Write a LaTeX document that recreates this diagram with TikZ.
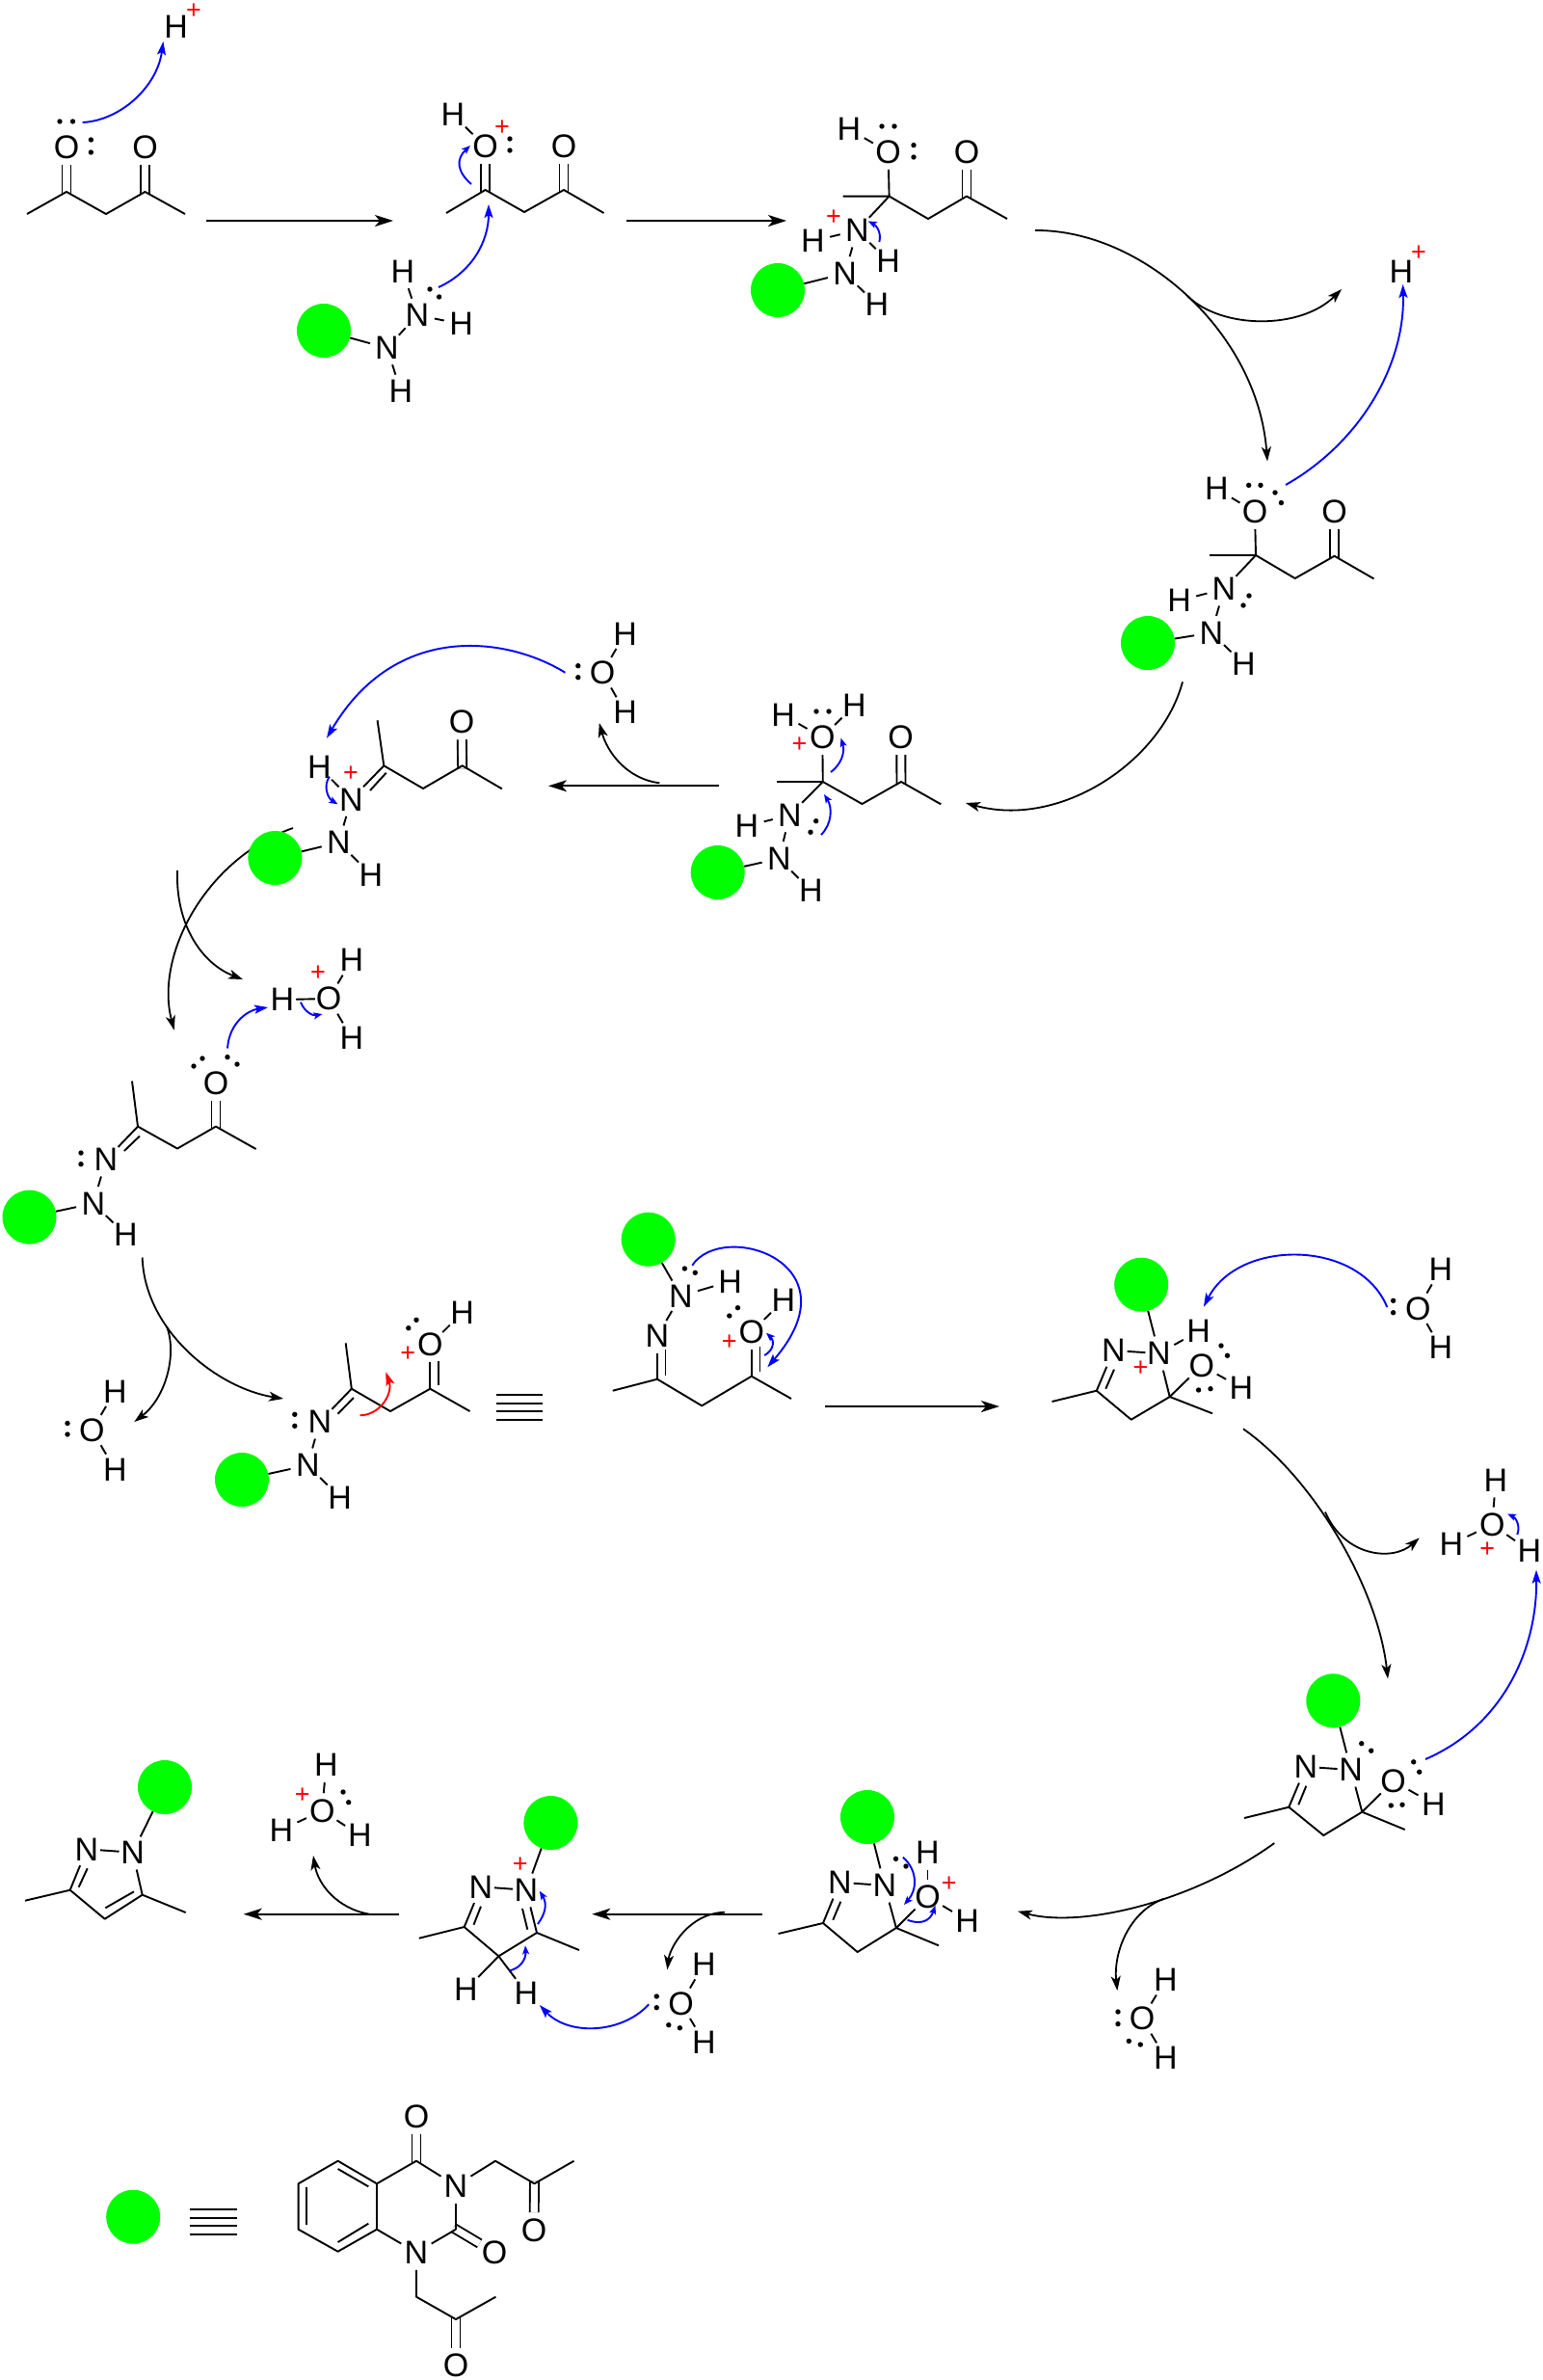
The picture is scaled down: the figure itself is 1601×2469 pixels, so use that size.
\documentclass[tikz,border=0pt]{standalone}
\usepackage{fontspec}
\setmainfont{Liberation Sans}
\usetikzlibrary{arrows.meta}
\definecolor{groupgreen}{RGB}{0,255,0}
\definecolor{pushblue}{RGB}{0,0,255}
\definecolor{pushred}{RGB}{255,0,0}
\tikzset{
    atom/.style={circle,inner sep=0pt,minimum size=36pt,font=\fontsize{34}{38}\selectfont},
    charge/.style={inner sep=0pt,text=pushred,font=\fontsize{27}{30}\selectfont},
    group/.style={circle,fill=groupgreen,inner sep=0pt,minimum size=56pt},
    bond/.style={line width=1.9pt,line join=round},
    bondh/.style={bond,shorten <=-4pt,shorten >=-4pt},
    dbl/.style={line width=1.9pt,double,double distance=7.1pt,shorten <=-3pt},
    lp/.style={fill=black},
    rxn/.style={line width=2pt,-{Stealth[length=19pt,width=12pt,inset=5pt]}},
    rxnc/.style={line width=1.8pt,-{Stealth[length=15pt,width=10pt,inset=4pt]}},
    push/.style={line width=1.9pt,pushblue,-{Stealth[length=14pt,width=9pt,inset=3pt]}},
    pushs/.style={line width=1.9pt,pushblue,-{Stealth[length=9pt,width=7pt,inset=2pt]}},
    pushr/.style={line width=1.9pt,pushred,-{Stealth[length=14pt,width=9pt,inset=3pt]}},
}
\begin{document}
\begin{tikzpicture}[x=1pt,y=-1pt]
    \useasboundingbox (0,0) rectangle (1601,2469);

    \coordinate (mea1) at (28,222);
    \coordinate (ca1) at (69,199);
    \coordinate (ca2) at (110,222);
    \coordinate (ca3) at (150.5,199);
    \coordinate (mea2) at (192,222);
    \node[atom] (oa1) at (69,153) {O};
    \node[atom] (oa2) at (150.5,153) {O};
    \draw[dbl] (ca1) -- (oa1);
    \draw[dbl] (ca3) -- (oa2);
    \draw[bond] (mea1) -- (ca1) -- (ca2) -- (ca3) -- (mea2);
    \fill[lp] (62,126) circle (2.7pt) (75.5,126) circle (2.7pt) (94.4,145) circle (2.7pt) (94.4,158) circle (2.7pt);
    \node[atom] (ha1) at (182.6,28) {H};
    \node[charge] (pa1) at (201,12) {+};
    \coordinate (pua1) at (85.7,127);
    \coordinate (pua2) at (169.4,43);
    \draw[push] (pua1) .. controls (125,125) and (163,90) .. (pua2);
    \coordinate (ra1) at (214,229);
    \coordinate (ra2) at (408,229);
    \draw[rxn] (ra1) -- (ra2);

    \coordinate (meb1) at (463,221);
    \coordinate (cb1) at (503.6,197);
    \coordinate (cb2) at (544,220);
    \coordinate (cb3) at (585,197);
    \coordinate (meb2) at (626.5,221);
    \node[atom] (ob1) at (503.6,152) {O};
    \node[atom] (ob2) at (585,152) {O};
    \node[atom] (hb1) at (470,119) {H};
    \node[charge] (pb1) at (521,133) {+};
    \draw[dbl] (cb1) -- (ob1);
    \draw[dbl] (cb3) -- (ob2);
    \draw[bond] (meb1) -- (cb1) -- (cb2) -- (cb3) -- (meb2);
    \draw[bond] (hb1) -- (ob1);
    \fill[lp] (529,144) circle (2.7pt) (529,156) circle (2.7pt);
    \node[group] (gb) at (336,343) {};
    \node[atom] (nb1) at (401.5,361) {N};
    \node[atom] (nb2) at (433,327) {N};
    \node[atom] (hb2) at (418,282) {H};
    \node[atom] (hb3) at (478.6,336) {H};
    \node[atom] (hb4) at (416,406) {H};
    \draw[bond] (gb) -- (nb1);
    \draw[bond] (nb1) -- (nb2);
    \draw[bond] (nb2) -- (hb2);
    \draw[bond] (nb2) -- (hb3);
    \draw[bond] (nb1) -- (hb4);
    \fill[lp] (446,300) circle (2.7pt) (455.6,308) circle (2.7pt);
    \coordinate (pub1) at (489,191);
    \coordinate (pub2) at (488,151);
    \draw[pushs] (pub1) .. controls (474,178) and (473,165) .. (pub2);
    \coordinate (pub3) at (455,298);
    \coordinate (pub4) at (507,212);
    \draw[push] (pub3) .. controls (490,282) and (507,250) .. (pub4);
    \coordinate (rb1) at (649.5,229);
    \coordinate (rb2) at (816,229);
    \draw[rxn] (rb1) -- (rb2);

    \coordinate (mec1) at (874.6,203.6);
    \coordinate (cc1) at (922.6,203.6);
    \coordinate (cc2) at (963,227);
    \coordinate (cc3) at (1003,203.6);
    \coordinate (mec2) at (1045,227);
    \node[atom] (oc1) at (921.6,157.6) {O};
    \node[atom] (oc2) at (1003,157.6) {O};
    \node[atom] (hc1) at (881,134) {H};
    \node[atom] (nc1) at (889.4,239) {N};
    \node[atom] (hc2) at (843.4,250) {H};
    \node[atom] (hc3) at (921.6,271) {H};
    \node[atom] (nc2) at (876.6,283.7) {N};
    \node[atom] (hc4) at (910,316) {H};
    \node[group] (gc) at (807,301) {};
    \node[charge] (pc1) at (865,225.6) {+};
    \draw[dbl] (cc3) -- (oc2);
    \draw[bond] (mec1) -- (cc1) -- (cc2) -- (cc3) -- (mec2);
    \draw[bond] (cc1) -- (oc1);
    \draw[bond] (hc1) -- (oc1);
    \draw[bond] (cc1) -- (nc1);
    \draw[bond] (hc2) -- (nc1);
    \draw[bond] (hc3) -- (nc1);
    \draw[bond] (nc1) -- (nc2);
    \draw[bond] (nc2) -- (hc4);
    \draw[bond] (gc) -- (nc2);
    \fill[lp] (915,131) circle (2.7pt) (928,131) circle (2.7pt) (948,150.6) circle (2.7pt) (948,163) circle (2.7pt);
    \coordinate (puc1) at (912.4,251);
    \coordinate (puc2) at (900.7,229.4);
    \draw[pushs] (puc1) .. controls (915,240) and (908,233) .. (puc2);
    \coordinate (rc1) at (1074,239);
    \coordinate (rc2) at (1315,478.5);
    \draw[rxnc] (rc1) .. controls (1185,238) and (1305,345) .. (rc2);
    \coordinate (rc3) at (1232,307);
    \coordinate (rc4) at (1392,300);
    \draw[rxnc] (rc3) .. controls (1268,342) and (1350,342) .. (rc4);
    \node[atom] (hc5) at (1454,281.6) {H};
    \node[charge] (pc2) at (1472,262.5) {+};

    \coordinate (med1) at (1255,576);
    \coordinate (cd1) at (1303,576);
    \coordinate (cd2) at (1343.7,600);
    \coordinate (cd3) at (1384.6,576.8);
    \coordinate (med2) at (1425.5,600.4);
    \node[atom] (od1) at (1302,531) {O};
    \node[atom] (od2) at (1384.6,531) {O};
    \node[atom] (hd1) at (1262.4,507) {H};
    \node[atom] (nd1) at (1270,611) {N};
    \node[atom] (hd2) at (1223.6,623) {H};
    \node[atom] (nd2) at (1257,656.4) {N};
    \node[atom] (hd3) at (1290.5,689) {H};
    \node[group] (gd) at (1191,667) {};
    \draw[dbl] (cd3) -- (od2);
    \draw[bond] (med1) -- (cd1) -- (cd2) -- (cd3) -- (med2);
    \draw[bond] (cd1) -- (od1);
    \draw[bond] (hd1) -- (od1);
    \draw[bond] (cd1) -- (nd1);
    \draw[bond] (hd2) -- (nd1);
    \draw[bond] (nd1) -- (nd2);
    \draw[bond] (nd2) -- (hd3);
    \draw[bond] (gd) -- (nd2);
    \fill[lp] (1295.7,503.4) circle (2.7pt) (1308,503.4) circle (2.7pt) (1323,511) circle (2.7pt) (1329.4,521.6) circle (2.7pt) (1296,618) circle (2.7pt) (1290,628) circle (2.7pt);
    \coordinate (pud1) at (1334,503);
    \coordinate (pud2) at (1455.6,295);
    \draw[push] (pud1) .. controls (1410,460) and (1458,380) .. (pud2);
    \coordinate (rd1) at (1227,707.4);
    \coordinate (rd2) at (1002,833);
    \draw[rxnc] (rd1) .. controls (1205,790) and (1100,860) .. (rd2);

    \coordinate (mee1) at (806,811);
    \coordinate (ce1) at (853.8,811);
    \coordinate (ce2) at (894.5,834);
    \coordinate (ce3) at (935,811);
    \coordinate (mee2) at (976.3,834.3);
    \node[atom] (oe1) at (853.3,765) {O};
    \node[atom] (oe2) at (934.7,765) {O};
    \node[atom] (he1) at (812.7,741.7) {H};
    \node[atom] (he2) at (886.4,731.7) {H};
    \node[atom] (ne1) at (819.4,845.7) {N};
    \node[atom] (he3) at (775,856.7) {H};
    \node[atom] (ne2) at (808.4,890.7) {N};
    \node[atom] (he4) at (841.4,924) {H};
    \node[group] (ge) at (744.7,905) {};
    \node[charge] (pe1) at (829.4,772.3) {+};
    \draw[dbl] (ce3) -- (oe2);
    \draw[bond] (mee1) -- (ce1) -- (ce2) -- (ce3) -- (mee2);
    \draw[bond] (ce1) -- (oe1);
    \draw[bond] (he1) -- (oe1);
    \draw[bond] (he2) -- (oe1);
    \draw[bond] (ce1) -- (ne1);
    \draw[bond] (he3) -- (ne1);
    \draw[bond] (ne1) -- (ne2);
    \draw[bond] (ne2) -- (he4);
    \draw[bond] (ge) -- (ne2);
    \fill[lp] (847,738) circle (2.7pt) (860,738) circle (2.7pt) (846.7,851.7) circle (2.7pt) (841,863.3) circle (2.7pt);
    \coordinate (pue1) at (862,801);
    \coordinate (pue2) at (872.5,765.7);
    \draw[pushs] (pue1) .. controls (873,793) and (877,780) .. (pue2);
    \coordinate (pue3) at (852,866);
    \coordinate (pue4) at (855,824);
    \draw[pushs] (pue3) .. controls (863,855) and (864,838) .. (pue4);
    \coordinate (re1) at (746,815.3);
    \coordinate (re2) at (569,815.3);
    \draw[rxn] (re1) -- (re2);
    \coordinate (re3) at (684.4,812.3);
    \coordinate (re4) at (621.8,750);
    \draw[rxnc] (re3) .. controls (650,808) and (630,780) .. (re4);

    \node[atom] (owa) at (625,697.7) {O};
    \node[atom] (hwa1) at (648.6,657.3) {H};
    \node[atom] (hwa2) at (648.6,739) {H};
    \draw[bond] (owa) -- (hwa1);
    \draw[bond] (owa) -- (hwa2);
    \fill[lp] (599.8,690.7) circle (2.7pt) (599.8,702.7) circle (2.7pt);
    \coordinate (puw1) at (586.4,697.7);
    \coordinate (puw2) at (339,765.7);
    \draw[push] (puw1) .. controls (525,660) and (410,645) .. (puw2);

    \coordinate (rf1) at (304,859);
    \coordinate (rf2) at (180.7,1068.6);
    \draw[rxnc] (rf1) .. controls (215,890) and (160,990) .. (rf2);
    \coordinate (rf3) at (184,903);
    \coordinate (rf4) at (252,1016);
    \draw[rxnc] (rf3) .. controls (182,960) and (210,1000) .. (rf4);

    \coordinate (mef1) at (391.6,747.3);
    \coordinate (cf1) at (398.3,794.3);
    \coordinate (cf2) at (439,818);
    \coordinate (cf3) at (479.7,794.3);
    \coordinate (mef2) at (520.8,818.3);
    \node[atom] (of1) at (479,749) {O};
    \node[atom] (hf1) at (331.3,795.7) {H};
    \node[atom] (nf1) at (364.4,829.3) {N};
    \node[atom] (nf2) at (351.4,874) {N};
    \node[atom] (hf2) at (385,907.3) {H};
    \node[group] (gf) at (285.4,890) {};
    \node[charge] (pf1) at (364,802.3) {+};
    \draw[dbl] (cf3) -- (of1);
    \draw[bond] (mef1) -- (cf1) -- (cf2) -- (cf3) -- (mef2);
    \draw[bond] (cf1) -- (nf1);
    \draw[bond] (400.7,801.7) -- (384,820);
    \draw[bond] (hf1) -- (nf1);
    \draw[bond] (nf1) -- (nf2);
    \draw[bond] (nf2) -- (hf2);
    \draw[bond] (gf) -- (nf2);
    \coordinate (puf1) at (341.9,805.7);
    \coordinate (puf2) at (350.5,834.3);
    \draw[pushs] (puf1) .. controls (335,815) and (340,828) .. (puf2);

    \node[atom] (og) at (341,1036) {O};
    \node[atom] (hg1) at (293,1037) {H};
    \node[atom] (hg2) at (365,996) {H};
    \node[atom] (hg3) at (365,1077) {H};
    \node[charge] (pg1) at (330,1010) {+};
    \draw[bondh] (hg1) -- (og);
    \draw[bond] (og) -- (hg2);
    \draw[bond] (og) -- (hg3);
    \coordinate (pug1) at (312,1039.7);
    \coordinate (pug2) at (334.4,1052);
    \draw[pushs] (pug1) .. controls (316,1050) and (325,1054) .. (pug2);

    \coordinate (meh1) at (137,1121.5);
    \coordinate (ch1) at (143,1168.6);
    \coordinate (ch2) at (184,1191.5);
    \coordinate (ch3) at (224,1168.6);
    \coordinate (meh2) at (265.6,1192);
    \node[atom] (oh1) at (224,1124) {O};
    \node[atom] (nh1) at (110,1203) {N};
    \node[atom] (nh2) at (96.8,1248.4) {N};
    \node[atom] (hh1) at (130.5,1281) {H};
    \node[group] (gh) at (30.5,1262.6) {};
    \draw[dbl] (ch3) -- (oh1);
    \draw[bond] (meh1) -- (ch1) -- (ch2) -- (ch3) -- (meh2);
    \draw[bond] (ch1) -- (nh1);
    \draw[bond] (145,1178.5) -- (128.8,1194);
    \draw[bond] (nh1) -- (nh2);
    \draw[bond] (nh2) -- (hh1);
    \draw[bond] (gh) -- (nh2);
    \fill[lp] (201,1106) circle (2.7pt) (210,1098) circle (2.7pt) (236,1096.6) circle (2.7pt) (246,1104) circle (2.7pt) (84,1196) circle (2.7pt) (84,1207.7) circle (2.7pt);
    \coordinate (puh1) at (236,1087.5);
    \coordinate (puh2) at (278,1045);
    \draw[push] (puh1) .. controls (238,1060) and (258,1048) .. (puh2);
    \coordinate (rh1) at (147.7,1304.5);
    \coordinate (rh2) at (294,1451);
    \draw[rxnc] (rh1) .. controls (150,1380) and (225,1440) .. (rh2);
    \coordinate (rh3) at (173,1376);
    \coordinate (rh4) at (139.3,1475);
    \draw[rxnc] (rh3) .. controls (184,1405) and (172,1450) .. (rh4);

    \node[atom] (owb) at (95.4,1483.6) {O};
    \node[atom] (hwb1) at (119.3,1443.3) {H};
    \node[atom] (hwb2) at (119.3,1524.3) {H};
    \draw[bond] (owb) -- (hwb1);
    \draw[bond] (owb) -- (hwb2);
    \fill[lp] (70,1476.5) circle (2.7pt) (70,1488) circle (2.7pt);

    \coordinate (mej1) at (358.7,1393.3);
    \coordinate (cj1) at (364.8,1440.7);
    \coordinate (cj2) at (405,1464);
    \coordinate (cj3) at (446.3,1440.7);
    \coordinate (mej2) at (487.5,1464);
    \node[atom] (oj1) at (446.3,1395) {O};
    \node[atom] (hj1) at (479.7,1361.7) {H};
    \node[atom] (nj1) at (331.8,1475) {N};
    \node[atom] (nj2) at (319.3,1520) {N};
    \node[atom] (hj2) at (352.6,1553.3) {H};
    \node[group] (gj) at (251,1535) {};
    \node[charge] (pj1) at (423.3,1405) {+};
    \draw[bond] (mej1) -- (cj1) -- (cj2) -- (cj3) -- (mej2);
    \draw[bond] (cj3) -- (oj1);
    \draw[bond] (455.4,1411.7) -- (455.4,1436.7);
    \draw[bond] (oj1) -- (hj1);
    \draw[bond] (cj1) -- (nj1);
    \draw[bond] (367,1450) -- (350.5,1466.7);
    \draw[bond] (nj1) -- (nj2);
    \draw[bond] (nj2) -- (hj2);
    \draw[bond] (gj) -- (nj2);
    \fill[lp] (432,1369.3) circle (2.7pt) (423.8,1377.7) circle (2.7pt) (305.8,1467.3) circle (2.7pt) (305.8,1479.3) circle (2.7pt);
    \coordinate (puj1) at (373.5,1468.3);
    \coordinate (puj2) at (400.3,1423.3);
    \draw[pushr] (puj1) .. controls (395,1468) and (408,1445) .. (puj2);
    \foreach \yline in {1447,1455.7,1464,1472.7}
        \draw[bond] (514.8,\yline) -- (563.4,\yline);

    \coordinate (mek1) at (635.8,1442.7);
    \coordinate (ck1) at (682,1430.7);
    \coordinate (ck2) at (728.2,1458.3);
    \coordinate (ck3) at (779.8,1427.7);
    \coordinate (mek2) at (821,1451);
    \node[atom] (ok1) at (779.8,1381.7) {O};
    \node[atom] (hk1) at (812.8,1349) {H};
    \node[atom] (nk1) at (682,1385.7) {N};
    \node[atom] (nk2) at (706.5,1344.3) {N};
    \node[atom] (hk2) at (757.7,1329.3) {H};
    \node[group] (gk) at (672.7,1285.7) {};
    \node[charge] (pk1) at (756.8,1392.3) {+};
    \draw[bond] (mek1) -- (ck1) -- (ck2) -- (ck3) -- (mek2);
    \draw[bond] (ck3) -- (ok1);
    \draw[bond] (788.5,1397.3) -- (788.5,1423.3);
    \draw[bond] (ok1) -- (hk1);
    \draw[bond] (ck1) -- (nk1);
    \draw[bond] (690.5,1400) -- (690.5,1426.7);
    \draw[bond] (nk1) -- (nk2);
    \draw[bond] (nk2) -- (hk2);
    \draw[bond] (gk) -- (nk2);
    \fill[lp] (710.4,1316) circle (2.7pt) (721.3,1320.3) circle (2.7pt) (765.5,1356.7) circle (2.7pt) (756.8,1365) circle (2.7pt);
    \coordinate (puk1) at (793.2,1406);
    \coordinate (puk2) at (795,1382.7);
    \draw[pushs] (puk1) .. controls (804,1400) and (803,1390) .. (puk2);
    \coordinate (puk3) at (718.2,1312.7);
    \coordinate (puk4) at (796.3,1418.3);
    \draw[push] (puk3) .. controls (750,1265) and (890,1310) .. (puk4);
    \coordinate (rk1) at (856,1459);
    \coordinate (rk2) at (1037,1459);
    \draw[rxn] (rk1) -- (rk2);

    \coordinate (mel1) at (1091.5,1454);
    \coordinate (cl1) at (1137.8,1442.7);
    \coordinate (cl2) at (1173.7,1472.7);
    \coordinate (cl3) at (1213.7,1449);
    \coordinate (mel2) at (1258,1466.3);
    \node[atom] (nl1) at (1155.4,1401) {N};
    \node[atom] (nl2) at (1202.5,1404) {N};
    \node[atom] (hl1) at (1243.6,1381) {H};
    \node[atom] (ol1) at (1246.8,1416.7) {O};
    \node[atom] (hl2) at (1288,1439.7) {H};
    \node[group] (gl) at (1184.2,1332.7) {};
    \node[charge] (pl1) at (1183.5,1420) {+};
    \draw[bond] (mel1) -- (cl1) -- (cl2) -- (cl3) -- (mel2);
    \draw[bond] (cl1) -- (nl1);
    \draw[bond] (1147.3,1440.7) -- (1156,1420.7);
    \draw[bondh] (nl1) -- (nl2);
    \draw[bond] (nl2) -- (cl3);
    \draw[bond] (cl3) -- (ol1);
    \draw[bond] (ol1) -- (hl2);
    \draw[bond] (nl2) -- (hl1);
    \draw[bond] (gl) -- (nl2);
    \fill[lp] (1267,1396) circle (2.7pt) (1273.5,1406.3) circle (2.7pt) (1243.6,1442) circle (2.7pt) (1256,1440.7) circle (2.7pt);
    \node[atom] (owc) at (1471.3,1357.3) {O};
    \node[atom] (hwc1) at (1494.8,1316.7) {H};
    \node[atom] (hwc2) at (1494.8,1398) {H};
    \draw[bond] (owc) -- (hwc1);
    \draw[bond] (owc) -- (hwc2);
    \fill[lp] (1445.6,1349.3) circle (2.7pt) (1445.6,1361.7) circle (2.7pt);
    \coordinate (pul1) at (1439.3,1356);
    \coordinate (pul2) at (1248.9,1355.7);
    \draw[push] (pul1) .. controls (1410,1285) and (1285,1285) .. (pul2);
    \coordinate (rl1) at (1290,1482.3);
    \coordinate (rl2) at (1440,1741.5);
    \draw[rxnc] (rl1) .. controls (1365,1535) and (1430,1650) .. (rl2);
    \coordinate (rl3) at (1375,1568.5);
    \coordinate (rl4) at (1472.7,1595.4);
    \draw[rxnc] (rl3) .. controls (1395,1615) and (1445,1620) .. (rl4);

    \node[atom] (om) at (1548.3,1581.7) {O};
    \node[atom] (hm1) at (1552,1535.3) {H};
    \node[atom] (hm2) at (1506,1601.7) {H};
    \node[atom] (hm3) at (1587,1608.7) {H};
    \node[charge] (pm1) at (1543.3,1608) {+};
    \draw[bond] (om) -- (hm1);
    \draw[bond] (om) -- (hm2);
    \draw[bond] (om) -- (hm3);
    \coordinate (pum1) at (1574.3,1592);
    \coordinate (pum2) at (1564,1570.5);
    \draw[pushs] (pum1) .. controls (1578,1582) and (1572,1574) .. (pum2);

    \coordinate (men1) at (1291,1886);
    \coordinate (cn1) at (1337.3,1874.7);
    \coordinate (cn2) at (1373.3,1904);
    \coordinate (cn3) at (1413.3,1879.7);
    \coordinate (men2) at (1457.7,1898);
    \node[atom] (nn1) at (1355,1832.8) {N};
    \node[atom] (nn2) at (1401.7,1836) {N};
    \node[atom] (on1) at (1445.7,1847.7) {O};
    \node[atom] (hn1) at (1487.3,1871.4) {H};
    \node[group] (gn) at (1383.3,1764.3) {};
    \draw[bond] (men1) -- (cn1) -- (cn2) -- (cn3) -- (men2);
    \draw[bond] (cn1) -- (nn1);
    \draw[bond] (1347.3,1872.2) -- (1355.3,1852.7);
    \draw[bondh] (nn1) -- (nn2);
    \draw[bond] (nn2) -- (cn3);
    \draw[bond] (cn3) -- (on1);
    \draw[bond] (on1) -- (hn1);
    \draw[bond] (gn) -- (nn2);
    \fill[lp] (1412.7,1808.7) circle (2.7pt) (1422.7,1816.2) circle (2.7pt) (1466.7,1827.8) circle (2.7pt) (1472.7,1838.2) circle (2.7pt) (1443.3,1873) circle (2.7pt) (1455,1872.2) circle (2.7pt);
    \coordinate (pun1) at (1479,1825);
    \coordinate (pun2) at (1594,1628.6);
    \draw[push] (pun1) .. controls (1560,1790) and (1595,1710) .. (pun2);
    \coordinate (rn1) at (1322.3,1912);
    \coordinate (rn2) at (1056,1982.7);
    \draw[rxnc] (rn1) .. controls (1235,1975) and (1120,2000) .. (rn2);
    \coordinate (rn3) at (1207,1970);
    \coordinate (rn4) at (1159.3,2065);
    \draw[rxnc] (rn3) .. controls (1172,1983) and (1155,2025) .. (rn4);

    \node[atom] (owd) at (1185,2094) {O};
    \node[atom] (hwd1) at (1209.3,2054) {H};
    \node[atom] (hwd2) at (1209.3,2134.9) {H};
    \draw[bond] (owd) -- (hwd1);
    \draw[bond] (owd) -- (hwd2);
    \fill[lp] (1160,2087) circle (2.7pt) (1160,2099.6) circle (2.7pt) (1171.3,2117.4) circle (2.7pt) (1183.3,2121) circle (2.7pt);

    \coordinate (meo1) at (807.6,2006);
    \coordinate (co1) at (854,1995);
    \coordinate (co2) at (889.7,2025);
    \coordinate (co3) at (929.9,2000);
    \coordinate (meo2) at (974,2018.3);
    \node[atom] (no1) at (871.4,1952.7) {N};
    \node[atom] (no2) at (917.9,1956) {N};
    \node[atom] (oo1) at (962.5,1967.7) {O};
    \node[atom] (ho1) at (962.5,1921.7) {H};
    \node[atom] (ho2) at (1003.6,1992.3) {H};
    \node[group] (go) at (900,1885) {};
    \node[charge] (po1) at (984.8,1954.3) {+};
    \draw[bond] (meo1) -- (co1) -- (co2) -- (co3) -- (meo2);
    \draw[bond] (co1) -- (no1);
    \draw[bond] (864.3,1991.7) -- (872.3,1972.7);
    \draw[bondh] (no1) -- (no2);
    \draw[bond] (no2) -- (co3);
    \draw[bond] (co3) -- (oo1);
    \draw[bond] (oo1) -- (ho1);
    \draw[bond] (oo1) -- (ho2);
    \draw[bond] (go) -- (no2);
    \fill[lp] (929.5,1928.3) circle (2.7pt) (940,1936) circle (2.7pt);
    \coordinate (puo1) at (937,1926.7);
    \coordinate (puo2) at (938,1976);
    \draw[pushs] (puo1) .. controls (952,1940) and (952,1960) .. (puo2);
    \coordinate (puo3) at (941.5,1991.7);
    \coordinate (puo4) at (970.5,1976.7);
    \draw[pushs] (puo3) .. controls (955,1997) and (965,1993) .. (puo4);
    \coordinate (ro1) at (790.6,1985.7);
    \coordinate (ro2) at (614.3,1985.7);
    \draw[rxn] (ro1) -- (ro2);
    \coordinate (ro3) at (751.8,1983.7);
    \coordinate (ro4) at (692.4,2043.3);
    \draw[rxnc] (ro3) .. controls (715,1985) and (695,2020) .. (ro4);

    \node[atom] (owe) at (706.7,2078.3) {O};
    \node[atom] (hwe1) at (730.4,2037.7) {H};
    \node[atom] (hwe2) at (730.4,2118.3) {H};
    \draw[bond] (owe) -- (hwe1);
    \draw[bond] (owe) -- (hwe2);
    \fill[lp] (681.3,2071) circle (2.7pt) (681.3,2082.7) circle (2.7pt) (693.8,2100.7) circle (2.7pt) (705.4,2103.7) circle (2.7pt);
    \coordinate (puw3) at (673.2,2079.3);
    \coordinate (puw4) at (559.8,2080);
    \draw[push] (puw3) .. controls (645,2110) and (590,2112) .. (puw4);

    \coordinate (mep1) at (434.8,2010.7);
    \coordinate (cp1) at (481.7,1999);
    \coordinate (cp2) at (517.4,2029.3);
    \coordinate (cp3) at (557,2005);
    \coordinate (mep2) at (600.9,2023);
    \node[atom] (np1) at (499,1957.3) {N};
    \node[atom] (np2) at (546,1960.7) {N};
    \node[atom] (hp1) at (483.5,2064) {H};
    \node[atom] (hp2) at (546,2067.3) {H};
    \node[group] (gp) at (571.4,1891) {};
    \node[charge] (pp1) at (539.7,1935) {+};
    \draw[bond] (mep1) -- (cp1) -- (cp2) -- (cp3) -- (mep2);
    \draw[bond] (cp1) -- (np1);
    \draw[bond] (491.5,1996.7) -- (499,1977.7);
    \draw[bondh] (np1) -- (np2);
    \draw[bond] (cp3) -- (np2);
    \draw[bond] (547.3,2001.7) -- (542,1980);
    \draw[bond] (cp2) -- (hp1);
    \draw[bond] (cp2) -- (hp2);
    \draw[bond] (gp) -- (np2);
    \coordinate (pup1) at (558,1996);
    \coordinate (pup2) at (559.8,1961.7);
    \draw[pushs] (pup1) .. controls (566,1985) and (568,1975) .. (pup2);
    \coordinate (pup3) at (528.6,2044.3);
    \coordinate (pup4) at (545,2018.3);
    \draw[pushs] (pup3) .. controls (540,2042) and (546,2032) .. (pup4);
    \coordinate (rp1) at (414.3,1985.7);
    \coordinate (rp2) at (252.7,1985.7);
    \draw[rxn] (rp1) -- (rp2);
    \coordinate (rp3) at (383.3,1985.7);
    \coordinate (rp4) at (325,1925);
    \draw[rxnc] (rp3) .. controls (350,1980) and (330,1955) .. (rp4);

    \node[atom] (oq) at (334.3,1878.3) {O};
    \node[atom] (hq1) at (338.3,1831) {H};
    \node[atom] (hq2) at (292,1898.3) {H};
    \node[atom] (hq3) at (373.3,1904) {H};
    \node[charge] (pq1) at (313.7,1862.3) {+};
    \draw[bond] (oq) -- (hq1);
    \draw[bond] (oq) -- (hq2);
    \draw[bond] (oq) -- (hq3);
    \fill[lp] (356,1859) circle (2.7pt) (361.7,1869.7) circle (2.7pt);

    \coordinate (mer1) at (26,1971.7);
    \coordinate (cr1) at (72.7,1960.7);
    \coordinate (cr2) at (108.7,1990.7);
    \coordinate (cr3) at (147.7,1965.7);
    \coordinate (mer2) at (192.7,1984);
    \node[atom] (nr1) at (90,1918.3) {N};
    \node[atom] (nr2) at (137.7,1921.7) {N};
    \node[group] (gr) at (171,1854) {};
    \draw[bond] (mer1) -- (cr1) -- (cr2) -- (cr3) -- (mer2);
    \draw[bond] (cr1) -- (nr1);
    \draw[bond] (81.7,1957.7) -- (90.7,1938.3);
    \draw[bondh] (nr1) -- (nr2);
    \draw[bond] (nr2) -- (cr3);
    \draw[bond] (139,1962.3) -- (109.3,1979.3);
    \draw[bond] (gr) -- (nr2);

    \node[group] (gs) at (138.2,2299.7) {};
    \foreach \yline in {2292.3,2300.7,2309.3,2318}
        \draw[bond] (196.7,\yline) -- (245.7,\yline);
    \coordinate (cs1) at (350.6,2241.7);
    \coordinate (cs2) at (391,2265.3);
    \coordinate (cs3) at (391,2312.7);
    \coordinate (cs4) at (350.6,2335.7);
    \coordinate (cs5) at (309.6,2312.7);
    \coordinate (cs6) at (309.6,2265.3);
    \coordinate (cs7) at (432,2241.7);
    \coordinate (cs8) at (473,2312.7);
    \coordinate (cs9) at (514,2241.7);
    \coordinate (cs10) at (554.5,2265.3);
    \coordinate (mes1) at (595.5,2241.7);
    \coordinate (cs11) at (432,2382.7);
    \coordinate (cs12) at (473,2406);
    \coordinate (mes2) at (514.4,2382.7);
    \node[atom] (os1) at (432,2196) {O};
    \node[atom] (os2) at (513.2,2336.7) {O};
    \node[atom] (os3) at (554,2313.3) {O};
    \node[atom] (os4) at (473,2454) {O};
    \node[atom] (ns1) at (473,2267.3) {N};
    \node[atom] (ns2) at (432,2336.7) {N};
    \draw[dbl] (cs7) -- (os1);
    \draw[dbl] (cs8) -- (os2);
    \draw[dbl] (cs10) -- (os3);
    \draw[dbl] (cs12) -- (os4);
    \draw[bond] (cs1) -- (cs2) -- (cs3) -- (cs4) -- (cs5) -- (cs6) -- cycle;
    \draw[bond] (350.6,2250) -- (382.3,2268.3);
    \draw[bond] (318,2269) -- (318,2307.7);
    \draw[bond] (350.6,2326) -- (382.3,2306.7);
    \draw[bond] (cs2) -- (cs7) -- (ns1);
    \draw[bond] (ns1) -- (cs8);
    \draw[bond] (cs8) -- (ns2);
    \draw[bond] (cs3) -- (ns2);
    \draw[bond] (ns1) -- (cs9) -- (cs10) -- (mes1);
    \draw[bond] (ns2) -- (cs11) -- (cs12) -- (mes2);
\end{tikzpicture}
\end{document}
